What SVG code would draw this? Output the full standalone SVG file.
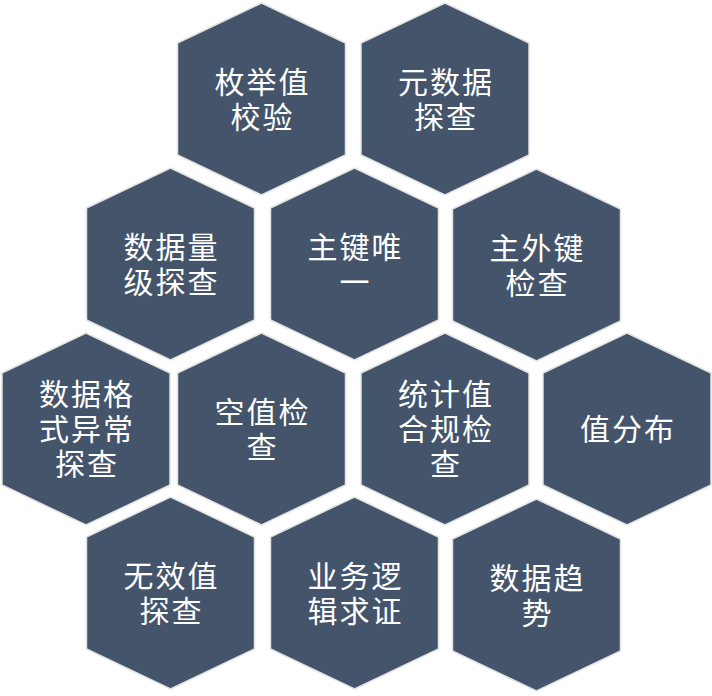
<svg xmlns="http://www.w3.org/2000/svg" xmlns:xlink="http://www.w3.org/1999/xlink" width="712" height="696" viewBox="0 0 712 696">
  <style>
    .hex { fill: #44546A; stroke: #E2E2E2; stroke-width: 1.5; stroke-linejoin: miter; }
    .lbl { fill: #FFFFFF; font-family: "Noto Sans CJK SC", "Noto Sans", sans-serif; font-size: 30px; letter-spacing: 2px; text-anchor: middle; }
  </style>
  <defs>
    <polygon id="hexShape" class="hex" points="0,0 84,40 84,152 0,192 -84,152 -84,40"/>
  </defs>
  <rect width="712" height="696" fill="#FFFFFF"/>
  <g id="connectors"/>
  <g id="node-meijuzhi" transform="translate(261.5,3)">
    <use xlink:href="#hexShape"/>
    <text class="lbl" x="1" y="89.5">枚举值</text>
    <text class="lbl" x="1" y="124.5">校验</text>
  </g>
  <g id="node-yuanshuju" transform="translate(445,3)">
    <use xlink:href="#hexShape"/>
    <text class="lbl" x="1" y="89.5">元数据</text>
    <text class="lbl" x="1" y="124.5">探查</text>
  </g>
  <g id="node-shujuliangji" transform="translate(170.5,168)">
    <use xlink:href="#hexShape"/>
    <text class="lbl" x="1" y="89.5">数据量</text>
    <text class="lbl" x="1" y="124.5">级探查</text>
  </g>
  <g id="node-zhujianweiyi" transform="translate(354.5,168)">
    <use xlink:href="#hexShape"/>
    <text class="lbl" x="1" y="89.5">主键唯</text>
    <text class="lbl" x="1" y="124.5">一</text>
  </g>
  <g id="node-zhuwaijian" transform="translate(536.5,169)">
    <use xlink:href="#hexShape"/>
    <text class="lbl" x="1" y="89.5">主外键</text>
    <text class="lbl" x="1" y="124.5">检查</text>
  </g>
  <g id="node-geshiyichang" transform="translate(86,333)">
    <use xlink:href="#hexShape"/>
    <text class="lbl" x="1" y="71.5">数据格</text>
    <text class="lbl" x="1" y="106.5">式异常</text>
    <text class="lbl" x="1" y="141.5">探查</text>
  </g>
  <g id="node-kongzhi" transform="translate(261.5,333)">
    <use xlink:href="#hexShape"/>
    <text class="lbl" x="1" y="89.5">空值检</text>
    <text class="lbl" x="1" y="124.5">查</text>
  </g>
  <g id="node-tongjizhi" transform="translate(445,333)">
    <use xlink:href="#hexShape"/>
    <text class="lbl" x="1" y="71.5">统计值</text>
    <text class="lbl" x="1" y="106.5">合规检</text>
    <text class="lbl" x="1" y="141.5">查</text>
  </g>
  <g id="node-zhifenbu" transform="translate(627,333)">
    <use xlink:href="#hexShape"/>
    <text class="lbl" x="1" y="106.5">值分布</text>
  </g>
  <g id="node-wuxiaozhi" transform="translate(170.5,497)">
    <use xlink:href="#hexShape"/>
    <text class="lbl" x="1" y="89.5">无效值</text>
    <text class="lbl" x="1" y="124.5">探查</text>
  </g>
  <g id="node-yewuluoji" transform="translate(354.5,497)">
    <use xlink:href="#hexShape"/>
    <text class="lbl" x="1" y="89.5">业务逻</text>
    <text class="lbl" x="1" y="124.5">辑求证</text>
  </g>
  <g id="node-shujuqushi" transform="translate(536.5,499)">
    <use xlink:href="#hexShape"/>
    <text class="lbl" x="1" y="89.5">数据趋</text>
    <text class="lbl" x="1" y="124.5">势</text>
  </g>
</svg>
